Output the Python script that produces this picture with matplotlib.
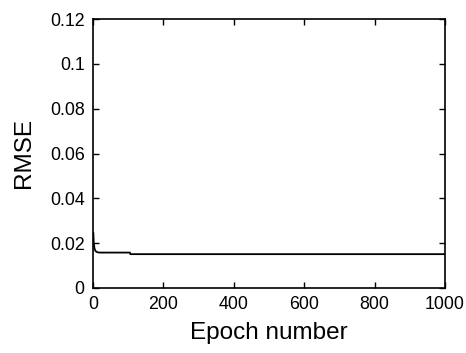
import matplotlib
matplotlib.use('Agg')
import matplotlib.pyplot as plt

plt.rcParams['font.family'] = ['Liberation Sans', 'DejaVu Sans']

# ค่าที่อ่านจากกราฟ
epochs = [1, 2, 4, 6, 9, 14, 20, 105, 106, 1000]
rmse = [0.0245, 0.0205, 0.0178, 0.0168, 0.0162, 0.0159, 0.0158, 0.0158, 0.0151, 0.0151]

x_ticks = [0, 200, 400, 600, 800, 1000]
y_ticks = [0, 0.02, 0.04, 0.06, 0.08, 0.1, 0.12]
y_tick_labels = ['0', '0.02', '0.04', '0.06', '0.08', '0.1', '0.12']

fig = plt.figure(figsize=(4.66, 3.53), dpi=100)
ax = fig.add_axes([93 / 466, 1 - 288 / 353, (445 - 93) / 466, (288 - 19) / 353])

ax.plot(epochs, rmse, color='black', linewidth=1.3)

ax.set_xlim(0, 1000)
ax.set_ylim(0, 0.12)
ax.set_xticks(x_ticks)
ax.set_xticklabels([str(t) for t in x_ticks])
ax.set_yticks(y_ticks)
ax.set_yticklabels(y_tick_labels)
ax.tick_params(direction='in', length=4, width=1, top=True, right=True,
               labelsize=12.8, pad=6)
for s in ax.spines.values():
    s.set_linewidth(1.2)

ax.set_xlabel('Epoch number', fontsize=17.5, labelpad=6)
ax.set_ylabel('RMSE', fontsize=17.5, labelpad=11)

fig.savefig('out.png', dpi=100)
